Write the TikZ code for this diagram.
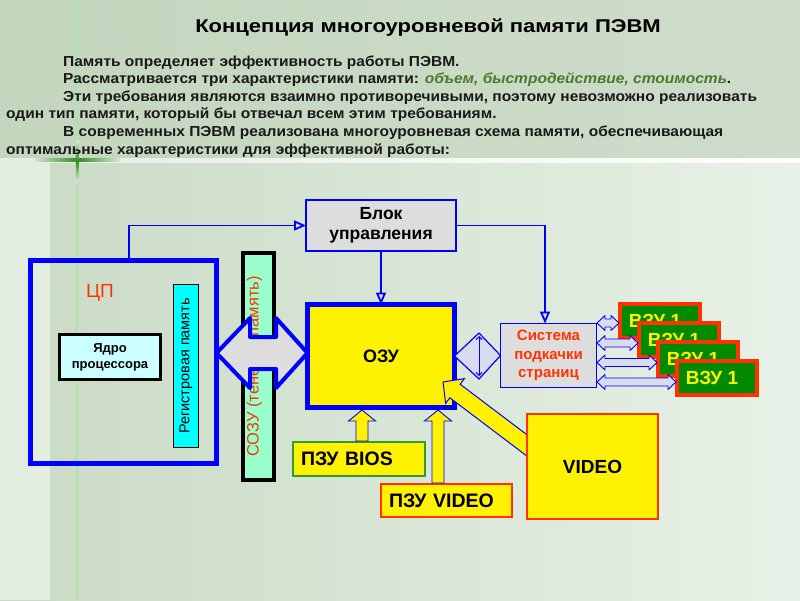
\documentclass[tikz,border=0pt]{standalone}
\usepackage{fontspec}
\setmainfont{Liberation Sans}
\newfontfamily\titlefont[FakeStretch=1.19]{Liberation Sans}
\newfontfamily\parafont[FakeStretch=1.07]{Liberation Sans}
\usetikzlibrary{arrows.meta,calc}
\definecolor{ublue}{RGB}{0,0,255}
\definecolor{vred}{HTML}{FF3300}
\definecolor{vgreen}{HTML}{008A00}
\definecolor{gry}{HTML}{DDDDDD}
\definecolor{lav}{HTML}{D9DCEF}
\definecolor{aqua}{HTML}{99FFCC}
\definecolor{lcyan}{HTML}{CCFFFF}
\definecolor{cyanf}{HTML}{00FFFF}
\definecolor{romgreen}{HTML}{339933}
\definecolor{hdrA}{HTML}{C4D6BE}
\definecolor{hdrB}{HTML}{CEDDCA}
\definecolor{bgA}{HTML}{C9DAC4}
\definecolor{bgB}{HTML}{E8F1E7}
\definecolor{strip}{HTML}{E3EEE1}
\definecolor{txtgreen}{HTML}{4A7A2A}
\definecolor{glow}{HTML}{2E8B1E}
\newcommand\fsz[2]{\fontsize{#1}{#2}\selectfont}
\newcommand\miniarr[3]{%
  \filldraw[draw=ublue, fill=lav, line width=0.9pt, line join=round]
    (#1,#3) -- ({#1+8},{#3-7.5}) -- ({#1+8},{#3-4}) -- ({#2-8},{#3-4}) -- ({#2-8},{#3-7.5})
    -- (#2,#3) -- ({#2-8},{#3+7.5}) -- ({#2-8},{#3+4}) -- ({#1+8},{#3+4}) -- ({#1+8},{#3+7.5}) -- cycle;}
\newcommand\yuparr[3]{%
  \filldraw[draw=ublue, fill=yellow, line width=0.9pt, line join=miter]
    ({#1-6},#2) -- ({#1-6},{#3+11}) -- ({#1-13.5},{#3+11}) -- (#1,#3) -- ({#1+13.5},{#3+11})
    -- ({#1+6},{#3+11}) -- ({#1+6},#2) -- cycle;}
\begin{document}
\begin{tikzpicture}[x=1pt,y=-1pt,
  box/.style={draw, inner sep=0pt, outer sep=0pt, align=center},
  conn/.style={draw=ublue, line width=1.8pt, -{Triangle[length=12pt,width=10pt,fill=lav]}},
  vzu/.style={box, draw=vred, fill=vgreen, line width=4pt, minimum width=80pt, minimum height=34pt, text=yellow, font=\fsz{19}{22}\bfseries},
  rom/.style={box, fill=yellow, line width=2pt, font=\fsz{19.5}{22}\bfseries, align=left, inner xsep=8pt},
  para/.style={anchor=base west, inner sep=0pt, font=\parafont\fsz{14.5}{17}\bfseries, text=black!90}
]
\useasboundingbox (0,0) rectangle (800,600);
% background
\shade[left color=bgA, right color=bgB] (0,0) rectangle (800,600);
\fill[strip] (0,160) rectangle (50,600);
\shade[left color=hdrA, right color=hdrB] (0,0) rectangle (800,160);
\shade[left color=white!55!hdrA, right color=white] (0,158.5) rectangle (800,162);
\fill[white!40!green!25!bgA] (76,0) rectangle (78.2,600);
\shade[left color=white!30!hdrA, right color=white!40!hdrA, middle color=glow] (35,158.8) rectangle (120,161.8);
\shade[top color=white!40!hdrA, bottom color=white!40!bgA, middle color=glow] (75.8,140) rectangle (78.4,182);

% header texts
\node[anchor=base, inner sep=0pt, font=\titlefont\fsz{18.5}{20}\bfseries] (title) at (428,32) {Концепция многоуровневой памяти ПЭВМ};
\node[para] (p1) at (63,66) {Память определяет эффективность работы ПЭВМ.};
\node[para] (p2) at (63,83.5) {Рассматривается три характеристики памяти: {\color{txtgreen}\itshape объем, быстродействие, стоимость}.};
\node[para] (p3) at (63,101) {Эти требования являются взаимно противоречивыми, поэтому невозможно реализовать};
\node[para] (p4) at (6,118.5) {один тип памяти, который бы отвечал всем этим требованиям.};
\node[para] (p5) at (63,136.5) {В современных ПЭВМ реализована многоуровневая схема памяти, обеспечивающая};
\node[para] (p6) at (6,154) {оптимальные характеристики для эффективной работы:};

% main nodes
\node[box, draw=ublue, line width=5pt, minimum width=186pt, minimum height=203pt] (cpu) at (123.5,362) {};
\node[text=vred, font=\fsz{19}{22}, inner sep=0pt] (cplabel) at (100,293) {ЦП};
\node[box, fill=lcyan, line width=3pt, minimum width=101pt, minimum height=45pt, font=\fsz{13}{16}\bfseries] (core) at (110,357) {Ядро\\процессора};
\node[box, fill=cyanf, line width=1.5pt, minimum width=163pt, minimum height=25pt, rotate=90, font=\fsz{14.5}{16}] (reg) at (186,366) {Регистровая память};
\node[box, fill=aqua, line width=4pt, minimum width=227pt, minimum height=31pt, rotate=90, text=vred, font=\fsz{16.5}{18}] (sozu) at (258.5,366.5) {\raisebox{0pt}[0pt][0pt]{СОЗУ (теневая память)}};

\node[box, draw=ublue, fill=gry, line width=2pt, minimum width=150pt, minimum height=51pt, font=\fsz{17.5}{20}\bfseries] (blok) at (381,225.5) {Блок\\управления};
\node[box, draw=ublue, fill=yellow, line width=5pt, minimum width=147pt, minimum height=103pt, font=\fsz{18}{20}\bfseries] (ozu) at (381,356) {ОЗУ};
\node[box, draw=ublue, fill=gry, line width=1.5pt, minimum width=96pt, minimum height=64pt, text=vred, font=\fsz{15}{18.5}\bfseries] (sys) at (548.5,355.5) {Система\\подкачки\\страниц};

% connectors
\draw[conn] ($(cpu.north west)+(98.5,0)$) |- (blok.west);
\draw[conn] (blok.south) -- (ozu.north);
\draw[conn] (blok.east) -| ($(sys.north)+(-3.5,0)$);

% double arrow cpu <-> ozu
\filldraw[draw=ublue, fill=gry, line width=4pt, line join=round]
  (cpu.east |- 0,353) -- (250,318) -- (250,337) -- (276,337) -- (276,318) -- (ozu.west |- 0,353)
  -- (276,388) -- (276,369) -- (250,369) -- (250,388) -- cycle;

% diamond ozu <-> sys
\filldraw[draw=ublue, fill=lav, line width=1.2pt, line join=round]
  (ozu.east) -- (479,333) -- (sys.west) -- (479,379) -- cycle;
\draw[draw=ublue, line width=1pt, {Straight Barb[length=3pt,width=6pt]}-{Straight Barb[length=3pt,width=6pt]}] (479,336) -- (479,376);

% external storage
\node[vzu] (v1) at (660,321) {\hspace*{-10pt}ВЗУ 1};
\node[vzu] (v2) at (679,340) {\hspace*{-10pt}ВЗУ 1};
\node[vzu] (v3) at (698,359) {\hspace*{-10pt}ВЗУ 1};
\node[vzu] (v4) at (717,378) {\hspace*{-10pt}ВЗУ 1};
\miniarr{597}{619}{323}
\miniarr{597}{638}{343}
\miniarr{597}{657}{362.5}
\miniarr{597}{676}{382}

% ROMs
\node[rom, draw=romgreen, minimum width=132pt, minimum height=34pt, text width=116pt] (bios) at (359,459) {ПЗУ BIOS};
\node[rom, draw=vred, minimum width=131pt, minimum height=33pt, text width=115pt] (promv) at (446.5,500.5) {ПЗУ VIDEO};
\yuparr{362}{441}{410}
\yuparr{438}{483}{410}

% diagonal arrow video -> ozu
\filldraw[draw=ublue, fill=yellow, line width=1pt, line join=miter]
  (443,382) -- (464.35,378.63) -- (460.13,384.22) -- (559.8,459.6) -- (549.6,473.2)
  -- (449.87,397.78) -- (445.65,403.37) -- cycle;
\node[box, draw=vred, fill=yellow, line width=2pt, minimum width=131pt, minimum height=105pt, font=\fsz{19}{20}\bfseries] (video) at (592.5,466.5) {VIDEO};
\end{tikzpicture}
\end{document}
